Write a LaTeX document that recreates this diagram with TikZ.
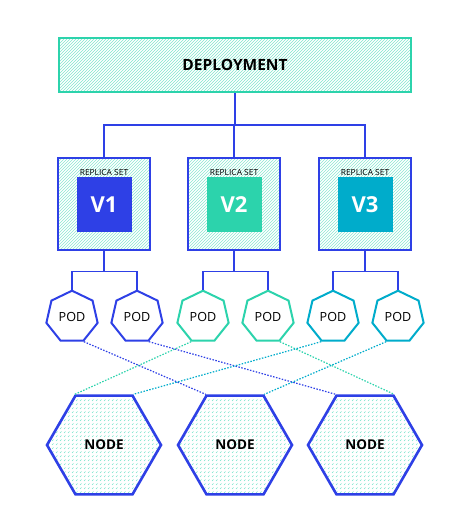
\documentclass[tikz,border=0pt]{standalone}
\usepackage{fontspec}
\setmainfont{Open Sans}
\usetikzlibrary{shapes.geometric,patterns}
\definecolor{kblue}{RGB}{46,64,230}
\definecolor{kgreen}{RGB}{44,211,172}
\definecolor{kcyan}{RGB}{0,172,203}
% short diagonal dashes for the host fill
\pgfdeclarepatternformonly{host dashes}{\pgfqpoint{-1pt}{-1pt}}{\pgfqpoint{5pt}{5pt}}{\pgfqpoint{4pt}{4pt}}{%
  \pgfsetlinewidth{0.6pt}
  \pgfpathmoveto{\pgfqpoint{0pt}{0pt}}
  \pgfpathlineto{\pgfqpoint{1.5pt}{1.5pt}}
  \pgfusepath{stroke}}
\tikzset{
  tree/.style={draw=kblue, line width=1.4pt},
  deploybox/.style={draw=kgreen, line width=2.6pt, pattern=north east lines, pattern color=kgreen!60,
    minimum width=352pt, minimum height=54pt, inner sep=0pt, font=\fontsize{15.5}{18}\selectfont\bfseries},
  rsbox/.style={draw=kblue, line width=2.6pt, pattern=north east lines, pattern color=kgreen!55,
    minimum size=92pt, inner sep=0pt},
  rslabel/.style={inner sep=0pt, font=\fontsize{8.4}{10}\selectfont},
  version/.style={minimum size=55pt, inner sep=0pt, text=white, font=\fontsize{22}{24}\selectfont\bfseries},
  pod/.style={regular polygon, regular polygon sides=7, minimum size=52.6pt, inner sep=0pt,
    line width=2pt, fill=white, font=\fontsize{12.6}{14}\selectfont},
  host/.style={regular polygon, regular polygon sides=6, minimum size=114pt, inner sep=0pt,
    draw=kblue, line width=2.6pt, pattern=host dashes, pattern color=kgreen!65,
    font=\fontsize{13.5}{16}\selectfont\bfseries},
  link/.style={line width=1.2pt, dash pattern=on 1.5pt off 1.5pt},
}
\begin{document}
\begin{tikzpicture}[x=1pt,y=-1pt]
\useasboundingbox (0,0) rectangle (471,529);
% deployment
\node[deploybox] (dep) at (235,65) {DEPLOYMENT};
\coordinate (split) at (235,125);
% replica sets
\node[rsbox] (rs1) at (104,204) {};
\node[rsbox] (rs2) at (234,204) {};
\node[rsbox] (rs3) at (365,204) {};
\node[rslabel] (lab1) at (104,172) {REPLICA SET};
\node[rslabel] (lab2) at (234,172) {REPLICA SET};
\node[rslabel] (lab3) at (365,172) {REPLICA SET};
\node[version, fill=kblue] (v1) at (104,204.5) {V1};
\node[version, fill=kgreen] (v2) at (234,204.5) {V2};
\node[version, fill=kcyan] (v3) at (365,204.5) {V3};
\draw[tree] (dep.south) -- (split);
\foreach \r in {rs1,rs2,rs3}
  \draw[tree] (split) -| (\r.north);
% pods
\node[pod, draw=kblue] (pod1) at (72,317) {POD};
\node[pod, draw=kblue] (pod2) at (137,317) {POD};
\node[pod, draw=kgreen] (pod3) at (203,317) {POD};
\node[pod, draw=kgreen] (pod4) at (268,317) {POD};
\node[pod, draw=kcyan] (pod5) at (333,317) {POD};
\node[pod, draw=kcyan] (pod6) at (398,317) {POD};
\draw[tree] (rs1.south) -- ++(0,20) coordinate (fork1);
\draw[tree] (rs2.south) -- ++(0,20) coordinate (fork2);
\draw[tree] (rs3.south) -- ++(0,20) coordinate (fork3);
\draw[tree] (pod1.corner 1) |- (fork1) -| (pod2.corner 1);
\draw[tree] (pod3.corner 1) |- (fork2) -| (pod4.corner 1);
\draw[tree] (pod5.corner 1) |- (fork3) -| (pod6.corner 1);
% hosts
\node[host] (host1) at (104,445) {NODE};
\node[host] (host2) at (235,445) {NODE};
\node[host] (host3) at (365,445) {NODE};
% scheduling
\draw[link, kblue] (pod1.corner 5) -- (host2.corner 2);
\draw[link, kblue] (pod2.corner 5) -- (host3.corner 2);
\draw[link, kgreen] (pod3.corner 4) -- (host1.corner 2);
\draw[link, kgreen] (pod4.corner 5) -- (host3.corner 1);
\draw[link, kcyan] (pod5.corner 4) -- (host1.corner 1);
\draw[link, kcyan] (pod6.corner 4) -- (host2.corner 1);
\end{tikzpicture}
\end{document}
